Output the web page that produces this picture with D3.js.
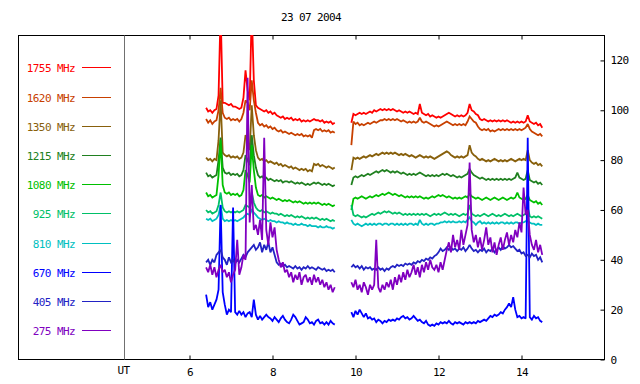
<!DOCTYPE html>
<html><head><meta charset="utf-8">
<script src="https://cdn.jsdelivr.net/npm/d3@7"></script>
<style>
body{margin:0;background:#fff}
text{font-family:"DejaVu Sans Mono",monospace;font-size:11px;letter-spacing:-0.6px}
</style>
</head><body>
<svg id="c" width="640" height="384"></svg>
<script>
const title = "23 07 2004";
const labels = ["1755 MHz","1620 MHz","1350 MHz","1215 MHz","1080 MHz","925 MHz","810 MHz","670 MHz","405 MHz","275 MHz"];
const colors = ["#ff0000","#c84000","#88600c","#208020","#00c000","#00c068","#00c0c0","#0000ff","#2222c4","#8000c0"];
const xTicks = [6,8,10,12,14];
const yTicks = [0,20,40,60,80,100,120];
const seg1Start = 6.40, seg2Start = 9.90, stepH = 0.05;

// segment 1 (06:24 - 09:30 UT)
const s1755a = [101,99.5,100,99,100,100.5,106,140,103,103,
102.5,102,102.5,101.5,101.5,101,100.5,101,105,116,
108,104,140,112,102,101,100.5,100,99.5,100,
99,99.5,98.5,99,98,97.5,97,97.5,96.5,97,
96.5,97,96,96.5,96,96.5,95.5,96,95.5,96,
95.5,96,96.5,96,96,95.5,96,95,95.5,95,
95.5,94.5,95];
const s1620a = [96.5,95,96,94.5,95.5,96,100,109,99,97,
96.5,97,96,96.5,96,96.5,95.5,96.5,99,104,
103,100,112,104,99,95,94,94.5,93.5,94,
93,93.5,92.5,93,92,91.5,92,91,91.5,91,
90.5,91,90.5,90,90.5,90,90.5,89.5,90,89.5,
90,89,92,92.5,92,92.5,91.5,92,91.5,92,
91,91.5,91];
const s1350a = [81,80,80.5,79.5,80.5,80,88,104,83,82,
81.5,82,81,81.5,81,81.5,80.5,81,83,90,
88,84,102,90,84,81,80,80.5,79.5,80,
79,79.5,79,78.5,79,78,78.5,77.5,78,77.5,
77,77.5,76.5,77,76.5,76,76.5,76,76.5,75.5,
76,75.5,78.5,78,78.5,77.5,78,77.5,77,77.5,
77,76.5,77];
const s1215a = [75,73.5,74,73,73.5,74,80,89,77,75,
74.5,75,74,74.5,74,74.5,73.5,74,76,82,
80,78,90,82,77,74,73,73.5,72.5,73,
72,72.5,72,71.5,72,71.5,72,71,71.5,71.5,
71,71.5,71,70.5,71,70.5,71,70.5,70,70.5,
70,70.5,71,70.5,71,70.5,70,70.5,70,70.5,
70,69.5,70];
const s1080a = [67,65.5,66,65,65.5,66,74,88,70,67,
66.5,67,66,66.5,66,66.5,65.5,66,68,76,
74,71,86,76,69,66,65.5,66,65,65.5,
65,64.5,65,64.5,64,64.5,64,63.5,64,63.5,
64,63.5,63,63.5,63,63.5,63,62.5,63,62.5,
63,62.5,63,62.5,63,62.5,62,62.5,62,62.5,
62,61.5,62];
const s925a = [60,59,59.5,58.5,59,59.5,62,67,61,59.5,
59,59.5,59,59.5,59,59.5,59,59.5,60,62,
61.5,61,67,63,61,60,59.5,60,59,59.5,
59,58.5,59,58.5,58.5,58,58.5,58,57.5,58,
57.5,58,57.5,57,57.5,57,57.5,57,56.5,57,
56.5,57,56.5,57,56.5,56,56.5,56,56.5,56,
55.5,56,55.5];
const s810a = [56.5,56,56.5,55.5,56,56.5,58,62,56.5,55.5,
56,55.5,56,55.5,56,55.5,56,56.5,57,58,
58.5,58,60,59,58,57,56.5,56,56.5,56,
55.5,56,55.5,55.5,55,55.5,55,55,54.5,55,
54.5,54.5,54,54.5,54,54,54.5,54,54,53.5,
54,53.5,53.5,53.5,53,53.5,53,53,53.5,53,
53,52.5,53];
const s670a = [26,21,23,20,22,24,28,62,27,22,
18,20,19,61,19,18,19.5,18,19,17,
18.5,19,17,24,18,16,17.5,16,17,18,
17,16.5,15.5,17,16,15,16.5,17.5,16,15,
14.5,16,18,17,15.5,14,14.5,15,17,16,
14.5,15,14,15.5,16,14.5,15,14,15,14,
15.5,14.5,14];
const s405a = [39,40,38,40,39,42,43,44,41,40,
38,41,39,40,38.5,40,39,40.5,42,41,
43,44,45,46,44,45,47,43,46,44,
47,43,45,42,39,38,38.5,37.5,38,37,
37.5,37,36.5,37.5,36.5,37,36,37,36.5,37.5,
36.5,37,36.5,36,37,36.5,36,36.5,35.5,36,
35.5,36,35];
const s275a = [37,35,38,34,37,33,36,38,35,36,
33,35,31,34,36,48,34,37,42,40,
113,55,70,52,54,50,56,48,89,52,
46,55,49,53,44,40,37,39,35,36,
33,35,31,34,32,35,30,33,34,31,
33,30,34,31,33,30,32,29,31,28,
30,27,29];

// segment 2 (09:54 - 14:30 UT)
const s1755b = [95,98.5,98,98.5,99,98.5,99,98.5,99,99.5,
99,100,99.5,100,100.5,100,100.5,100,100.5,100,
100.5,100,99.5,100,99.5,99,99.5,99,99.5,99,
98.5,99,98.5,102.5,99,98.5,98,98.5,97.5,98,
97.5,97,97.5,97,97.5,98,98.5,99,98.5,98,
97.5,98,97.5,98,97.5,98,99,102.5,100,99.5,
98.5,98,96.5,96,96.5,96,95.5,96,95.5,96,
95.5,96,95.5,96,95.5,96,95.5,95,95.5,95,
95.5,95,95.5,95,95.5,98,95.5,95,94.5,95,
94,94.5,93];
const s1620b = [86,95.5,94.5,95,94,94.5,94,94.5,95,94.5,
95,95.5,95,95.5,96,96,96.5,96,96.5,96,
96.5,96,96.5,96,95.5,96,95.5,95,95.5,95,
95.5,95,95.5,97,95.5,95,95.5,95,94.5,94,
93.5,94,93.5,94,94.5,95,95.5,95,94.5,94,
94.5,94,94.5,94,94.5,94,95.5,97.5,96.5,95.5,
95,93.5,92.5,92,92.5,92,92.5,91.5,92,91.5,
92,92.5,92,92.5,92,92.5,92,92.5,92,92.5,
92,92.5,92,92.5,93,94.5,92.5,91.5,91,90.5,
90,90.5,89.5];
const s1350b = [76,81,80.5,81,80.5,81,81.5,81,81.5,82,
81.5,82,82.5,82,82.5,83,82.5,83,82.5,83,
82.5,83,82.5,82,82.5,82,82.5,82,81.5,82,
81.5,81,81.5,82,81.5,81,81.5,81,81.5,81,
80.5,81,81.5,82,82.5,83,83.5,83,82,81.5,
81,81.5,81,81.5,81,81.5,82,86,83,82,
81.5,80.5,80,80.5,80,79.5,80,79.5,80,80.5,
80,79.5,80,79.5,80,79.5,80,80.5,80,79.5,
80,80.5,80,80.5,80,84,80,79,78.5,79,
78,78.5,77.5];
const s1215b = [70,73,73.5,73,73.5,74,73.5,74,74.5,74,
74.5,75,75.5,75,75.5,76,75.5,76,75.5,75,
75.5,75,75.5,75,74.5,75,74.5,74,74.5,74,
74.5,74,74.5,75,74.5,74,73.5,74,73.5,74,
73.5,74,73.5,74,74.5,74,74.5,74,73.5,74,
73.5,73,73.5,73,73.5,74,74.5,76.5,75,74,
73.5,73,72.5,73,72.5,72,72.5,72,72.5,72,
72.5,72,72.5,72,72.5,72,72.5,72,72.5,73,
75,73,72.5,72,72.5,76,72,71.5,71,71.5,
70.5,71,70];
const s1080b = [60,64.5,65,64.5,65,65.5,65,64.5,65,65.5,
65,65.5,66,65.5,66,66.5,66,66.5,67,66.5,
66,66.5,66,65.5,66,65.5,65,65.5,65,65.5,
65,65.5,65,65.5,65,64.5,65,64.5,65,65.5,
65,65.5,66,65.5,66,65.5,65,65.5,65,64.5,
65,64.5,65,64.5,65,65.5,65,66.5,65.5,65,
64.5,65,64.5,64,64.5,65,64.5,64,64.5,65,
64.5,64,64.5,65,64.5,64,64.5,65,64.5,65,
67,65,64.5,64,64.5,66,64,63.5,63,63.5,
62.5,63,62];
const s925b = [62,58,57.5,58,57.5,57,57.5,57,57.5,58,
58.5,58,58.5,59,58.5,59,59.5,59,59.5,59,
58.5,59,58.5,59,58.5,58,58.5,58,58.5,58,
58.5,58,58.5,58,58.5,58,58.5,58,57.5,58,
58.5,58,58.5,58,58.5,59,58.5,58,58.5,58,
58.5,58,57.5,58,58.5,58,58.5,62,58.5,58,
57.5,58,57.5,58,58.5,58,57.5,58,58.5,58,
57.5,58,57.5,58,58.5,58,57.5,58,57.5,58,
58.5,58,57.5,58,58.5,61,57.5,57,57.5,57,
57.5,57,56.5];
const s810b = [56,54.5,54,54.5,54,53.5,54,54.5,54,54.5,
54,54.5,54,54.5,54.5,54,54.5,54.5,54,54.5,
54.5,54,54.5,54,54.5,54,54.5,54,54.5,54.5,
54,54.5,54,56,54.5,54,54.5,54,54.5,54.5,
54,54.5,54.5,55,55,55.5,55,55.5,55,55.5,
55,55,55.5,55,55.5,55,56,57,55.5,55,
54,55,55.5,54.5,55,54.5,55,54.5,55,54.5,
55,54.5,55,55,54.5,55,54.5,55,54.5,55,
55,54.5,55,55,55.5,55.5,55,54.5,54.5,54,
54.5,54,54];
const s670b = [19,17,19.5,18,20,18.5,17,18.5,16.5,17,
16,16.5,15,16,15.5,14.5,15.5,15,16,15.5,
16,15.5,16.5,16,17,17.5,16.5,17,16,16.5,
17.5,16.5,15.5,16,15,14.5,15.5,14,13.5,14,
13.5,14.5,14,15,14.5,15,14.5,15.5,14.5,14,
15,14.5,15,14.5,14,15,14.5,15,14.5,15,
14.5,15.5,15,15.5,16,15.5,16.5,17.5,17,18,
17.5,18,19,18.5,20,21,22.5,21,25,20,
17,17.5,16.5,17,16.5,89,17,16,17.5,16.5,
17,15.5,15];
const s405b = [37,38,37,37.5,36.5,37.5,36,37,36.5,37,
36,36.5,36,37,36,36.5,35.5,36.5,36,37,
37.5,37,38,37.5,38,37.5,38.5,38,38.5,38,
39,38.5,39.5,39,40,39.5,40.5,40,41,40.5,
41.5,42,43,44.5,43.5,44,45,44,45,44,
44.5,43.5,44.5,44,45,43.5,44.5,46,44.5,43.5,
44,43,44,43.5,44.5,43,44,43.5,44.5,43,
44,45,44,45.5,44.5,45,46,45,45.5,44.5,
43.5,44,42.5,43,41.5,42,41,42.5,41.5,42,
40,41,39];
const s275b = [31,29,32,28,30,27,31,29,26,30,
28,30,48,29,27,30,28,31,29,32,
28,33,30,34,31,35,32,36,33,35,
38,34,37,33,38,35,39,36,40,37,
36,38,35,39,36,40,44,47,43,50,
45,48,44,52,46,50,54,79,52,47,
50,45,49,44,48,53,46,49,43,47,
42,46,49,44,48,51,46,50,47,52,
49,55,51,69,58,60,50,46,44,48,
43,46,42];

const seriesA = [s1755a,s1620a,s1350a,s1215a,s1080a,s925a,s810a,s670a,s405a,s275a];
const seriesB = [s1755b,s1620b,s1350b,s1215b,s1080b,s925b,s810b,s670b,s405b,s275b];

const svg = d3.select("#c");
const x = d3.scaleLinear().domain([6,16]).range([189.5,604.5]);
const y = d3.scaleLinear().domain([0,130]).range([359.5,35.5]);

// frame
svg.append("rect").attr("x",18.5).attr("y",35.5).attr("width",586).attr("height",324)
  .attr("fill","none").attr("stroke","#000");
svg.append("line").attr("x1",124.5).attr("x2",124.5).attr("y1",35.5).attr("y2",359.5)
  .attr("stroke","#707070");

// title
svg.append("text").attr("x",311).attr("y",21).attr("text-anchor","middle").attr("fill","#000").text(title);

// bottom axis
const gb = svg.append("g").attr("transform","translate(0,359.5)")
  .call(d3.axisBottom(x).tickValues(xTicks).tickSizeInner(-4).tickSizeOuter(0).tickPadding(9).tickFormat(d3.format("d")));
gb.select(".domain").remove();
gb.selectAll("line").attr("stroke","#000");
gb.selectAll("text").attr("font-family",null).attr("font-size",null).attr("fill","#000");
svg.append("text").attr("x",123.5).attr("y",374).attr("text-anchor","middle").attr("fill","#000").text("UT");

// top axis
const gt = svg.append("g").attr("transform","translate(0,35.5)")
  .call(d3.axisTop(x).tickValues(xTicks).tickSizeInner(-4).tickSizeOuter(0).tickFormat(""));
gt.select(".domain").remove();
gt.selectAll("line").attr("stroke","#000");

// right axis
const gr = svg.append("g").attr("transform","translate(604.5,0)")
  .call(d3.axisRight(y).tickValues(yTicks).tickSizeInner(-4).tickSizeOuter(0).tickPadding(6));
gr.select(".domain").remove();
gr.selectAll("line").attr("stroke","#000");
gr.selectAll("text").attr("font-family",null).attr("font-size",null).attr("fill","#000");

// clip
svg.append("clipPath").attr("id","clip").append("rect")
  .attr("x",125).attr("y",35).attr("width",479).attr("height",324);

const line = d3.line().x(d=>x(d.t)).y(d=>y(d.v)).curve(d3.curveLinear);
const plot = svg.append("g").attr("clip-path","url(#clip)");
labels.forEach((lab,i)=>{
  [[seriesA[i],seg1Start],[seriesB[i],seg2Start]].forEach(([arr,t0])=>{
    const pts = arr.map((v,k)=>({t:t0+k*stepH, v:v}));
    plot.append("path").datum(pts).attr("d",line)
      .attr("fill","none").attr("stroke",colors[i]).attr("stroke-width",1.8)
      .attr("stroke-linejoin","miter").attr("stroke-miterlimit",2);
  });
});

// legend
labels.forEach((lab,i)=>{
  const ly = Math.round(67.3 + 29.2*i) + 0.5;
  svg.append("text").attr("x",75).attr("y",ly+4).attr("text-anchor","end")
    .attr("fill",colors[i]).text(lab);
  svg.append("line").attr("x1",82).attr("x2",111).attr("y1",ly).attr("y2",ly)
    .attr("stroke",colors[i]);
});
</script>
</body></html>
